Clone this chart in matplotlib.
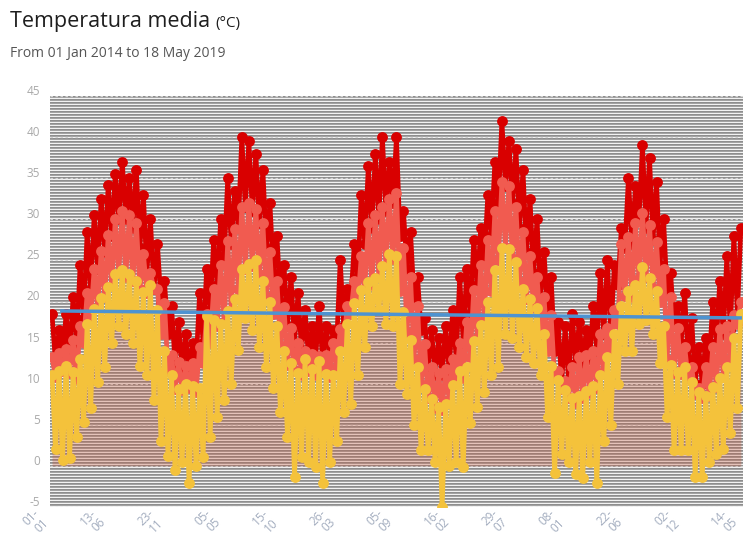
import numpy as np
import pandas as pd
import matplotlib
matplotlib.use('Agg')
import matplotlib.pyplot as plt
from matplotlib.transforms import ScaledTranslation

# ---------------- data ----------------
dates = pd.date_range('2014-01-01', periods=197, freq='10D')

temp_max = [
    18.5, 12.5, 16.5, 13, 18.5, 13.5, 20.5, 15, 24.5, 18,
    28.5, 21.5, 30.5, 24, 32.5, 26, 34.2, 28, 35.5, 30,
    37, 30, 35, 29, 36, 26.5, 33, 23.5, 30, 21.5,
    27, 20, 22.5, 16, 19.5, 12.5, 17.5, 11.5, 16, 11.5,
    15, 12.5, 21, 15, 24, 19, 27.5, 22, 30, 25.5,
    35, 27, 33.5, 29, 40, 31.5, 39.5, 31, 38, 29.5,
    36, 26.5, 32, 23.5, 28, 20, 24.5, 17, 23, 15,
    21, 14, 19, 13, 17, 13, 19.5, 12.5, 17, 13.5,
    16.5, 15, 25, 17, 21.5, 20, 27, 23, 33, 27,
    36.5, 29, 38, 30, 40, 31, 37, 32, 40, 28,
    31, 24, 28.5, 20.5, 23, 16.5, 18, 12, 16.5, 11,
    15.5, 11, 17, 11.5, 19, 13, 23, 15, 24, 18.5,
    27.5, 22, 29, 25, 33, 28, 37, 32, 42, 34,
    39.5, 32, 38.5, 29, 36, 26, 32.5, 23.5, 30, 20.5,
    26, 18.5, 23, 14, 17.5, 10, 17, 10, 18.5, 12.5,
    17.5, 12.5, 16.5, 13, 19.5, 14, 23.5, 16, 25, 16,
    24.5, 22, 29, 26.5, 35, 27, 34, 30, 39, 29,
    37.5, 27.5, 34.5, 24.5, 30, 21, 23.5, 17, 19.5, 15,
    21, 13, 18, 10, 14.5, 10, 15.5, 12.5, 20, 15,
    22.5, 16, 25.5, 16.5, 28, 18.5, 29,
]

temp_mean = [
    13.3, 10.8, 13.7, 11.5, 14.2, 11.3, 15.3, 10.6, 17, 15,
    21, 17.8, 24, 19.3, 26.2, 20.5, 28.1, 22, 30, 23.5,
    31, 23, 30.5, 22.5, 29.5, 21.5, 25.8, 21, 23.5, 21.5,
    21.5, 16, 19.8, 11.5, 13.5, 9.3, 12.6, 9.2, 12.1, 9.5,
    12.5, 9, 14.5, 12.5, 18.5, 15, 21.5, 17, 24.5, 17.5,
    27.3, 19, 28.8, 21.5, 31.5, 24, 32, 24.3, 31.3, 23.3,
    29.5, 20.7, 26, 18.5, 22.5, 14.7, 19.3, 12.3, 16.8, 11.5,
    15, 11, 14, 11.5, 13.6, 11, 13.4, 11.5, 13.5, 10.8,
    15, 12, 16.6, 15, 19.4, 18.5, 22.5, 20, 25.5, 21.7,
    29.5, 22, 30.5, 23, 31.5, 24.5, 32.5, 25.2, 33.2, 21.3,
    26.5, 16.3, 23, 13, 19.5, 10, 14.8, 8.2, 12, 7,
    11.3, 6.8, 11.8, 8, 13, 10.5, 15, 10.7, 17.5, 13.3,
    21.4, 15.6, 24.5, 17.7, 27.5, 21.3, 31, 25, 34.5, 26.6,
    34, 25.3, 31.5, 22.5, 28.5, 20.3, 25.5, 19.3, 23, 17,
    20.5, 14, 18.3, 10.8, 11.5, 9.3, 10.3, 8.3, 12, 7.7,
    13.3, 8.3, 13.5, 8.9, 14, 9.5, 16, 11.5, 16.8, 14,
    19, 17.3, 27, 20.7, 27.8, 20.6, 29.5, 22.8, 30.8, 23,
    29.3, 21.7, 27.2, 19.9, 24, 13, 20.5, 11.3, 16.8, 11.2,
    14.5, 10.7, 12, 8.8, 9.5, 8.2, 12, 8.5, 14.5, 9.6,
    16.6, 10.8, 17, 13, 18.3, 17.3, 20,
]

temp_min = [
    11.1, 2, 11.6, 0.7, 12.1, 1, 11.4, 3.5, 13, 5.3,
    17.3, 7, 19.1, 10.2, 20.4, 12, 21.8, 15, 23.3, 17,
    23.8, 16, 23.3, 15, 22.5, 12.1, 21.2, 11, 22, 8,
    19, 3, 14, 1.2, 11, -0.5, 9.3, 0.5, 10, -2.1,
    9.7, 0, 9.5, 1.1, 18.2, 3.5, 17.8, 6, 17.3, 8,
    18.8, 10, 20.3, 14.1, 24, 18, 24.6, 16.5, 25, 14.5,
    22.5, 12, 20, 9.5, 17, 6.5, 14, 3.5, 12.5, -1.3,
    11.3, 1.1, 13, 0.5, 11.8, -0.1, 12.8, -2.1, 11.2, 0.5,
    11, 3, 14, 6.5, 17.3, 7.5, 19.8, 11, 21.4, 14.5,
    22.4, 17, 22.9, 19, 24.3, 17.3, 25.8, 17, 25.5, 10,
    18.7, 8.8, 15.3, 5, 12, 1.9, 9.3, 1.9, 8.1, 0.5,
    7.2, -5, 7.5, 0, 9.8, 0.5, 11.5, -0.1, 12, 5.2,
    15.2, 7.2, 17.1, 9, 20, 11, 23.8, 12, 26.5, 16,
    26.4, 15.5, 24.8, 14.5, 21.5, 13.3, 20.3, 12.5, 19.2, 11,
    16, 6, 12.1, -0.9, 10.5, 1.5, 9.2, 0.5, 8.2, -1,
    8.5, -1.5, 9.1, 0.5, 9.7, -2.1, 11, 3, 13.3, 5,
    16, 10, 19.5, 14, 21.3, 14, 22, 17.3, 24.2, 17.7,
    22.8, 16, 21.3, 12.5, 17, 6, 12.3, 1.9, 11.4, 1.9,
    12, 1.9, 10.2, -1.3, 9, -1.3, 8.5, 0.5, 9.6, 1.5,
    10.7, 2, 12, 4, 15.5, 7, 18.5,
]

trend_dates = pd.to_datetime(['2014-01-24', '2019-05-18'])
trend_values = [18.85, 18.0]

tick_dates = pd.to_datetime([
    '2014-01-01', '2014-06-13', '2014-11-23', '2015-05-05', '2015-10-15',
    '2016-03-26', '2016-09-05', '2017-02-16', '2017-07-29', '2018-01-08',
    '2018-06-22', '2018-12-02', '2019-05-14'])
tick_labels = ['01-\n01', '13-\n06', '23-\n11', '05-\n05', '15-\n10',
               '26-\n03', '05-\n09', '16-\n02', '29-\n07', '08-\n01',
               '22-\n06', '02-\n12', '14-\n05']
y_ticks = [-5, 0, 5, 10, 15, 20, 25, 30, 35, 40, 45]

title = 'Temperatura media'
unit = '(°C)'
subtitle = 'From 01 Jan 2014 to 18 May 2019'

# ---------------- figure ----------------
plt.rcParams['font.family'] = ['Open Sans', 'DejaVu Sans']
W, H = 743, 540
fig = plt.figure(figsize=(W / 100, H / 100), dpi=100)
ax_left, ax_bottom, ax_w, ax_h = 50, 33, 693, 411
ax = fig.add_axes([ax_left / W, ax_bottom / H, ax_w / W, ax_h / H])

# striped background
pal = np.array([[0.56, 0.56, 0.56], [0.64, 0.64, 0.64], [0.95, 0.95, 0.95]])
stripes = pal[np.arange(ax_h) % 3][:, None, :]
ax.imshow(stripes, extent=(0, 1, 0, 1), transform=ax.transAxes,
          aspect='auto', interpolation='nearest', zorder=0)

for v in y_ticks:
    ax.axhline(v, color='#d4d4d4', lw=0.9, ls=(0, (2, 2)), zorder=0.5)

ax.fill_between(dates, 0, temp_min, color='#c8583a', alpha=0.30, lw=0,
                zorder=1)

kw = dict(lw=3.4, marker='o', ms=7.8, mec='none', solid_joinstyle='round')
ax.plot(dates, temp_max, color='#d90000', zorder=2, **kw)
ax.plot(dates, temp_mean, color='#f15b50', zorder=3, **kw)
ax.plot(dates, temp_min, color='#f4c23b', zorder=4, **kw)
ax.plot(trend_dates, trend_values, color='#4d93d1', lw=2.5, zorder=5,
        solid_capstyle='butt')

x0 = pd.Timestamp('2014-01-01')
ax.set_xlim(x0 - pd.Timedelta(days=5.7), x0 + pd.Timedelta(days=1966))
ax.set_ylim(-5, 45)

for s in ax.spines.values():
    s.set_visible(False)
ax.tick_params(length=0)

ax.set_yticks(y_ticks)
ax.set_yticklabels([str(v) for v in y_ticks], fontsize=8.5, color='#a9a9a9')
ax.tick_params(axis='y', pad=7)
up = ScaledTranslation(0, 6 / 100, fig.dpi_scale_trans)
for lab in ax.get_yticklabels():
    lab.set_transform(lab.get_transform() + up)

ax.set_xticks(tick_dates)
ax.set_xticklabels(tick_labels, rotation=45, ha='right', va='top',
                   rotation_mode='anchor', fontsize=8.5, color='#a3adbf',
                   linespacing=0.95)
ax.tick_params(axis='x', pad=0)
shift = ScaledTranslation(-19 / 100, 0 / 100, fig.dpi_scale_trans)
for lab in ax.get_xticklabels():
    lab.set_transform(lab.get_transform() + shift)

# titles
t = fig.text(10 / W, 1 - 27 / H, title, fontsize=15.5, color='#1e1e1e',
             va='baseline', ha='left')
fig.canvas.draw()
bb = t.get_window_extent(fig.canvas.get_renderer())
fig.text((bb.x1 + 5) / W, 1 - 27 / H, unit, fontsize=11, color='#1e1e1e',
         va='baseline', ha='left')
fig.text(10 / W, 1 - 57 / H, subtitle, fontsize=10, color='#555555',
         va='baseline', ha='left')

fig.savefig('out.png', dpi=100)
